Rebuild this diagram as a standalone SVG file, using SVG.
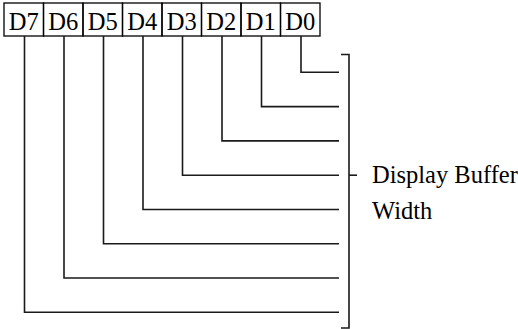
<svg xmlns="http://www.w3.org/2000/svg" width="518" height="329" viewBox="0 0 518 329">
<style>
.b{fill:none;stroke:#000;stroke-width:1.3}
.l{fill:none;stroke:#1a1a1a;stroke-width:1.6}
.t{font-family:"Liberation Serif","Times New Roman",serif;font-size:24.5px;fill:#000}
</style>
<rect width="518" height="329" fill="#fff"/>
<g id="D7"><rect class="b" x="4" y="3" width="39.5" height="33"/><text class="t" x="23.75" y="29.5" text-anchor="middle">D7</text></g>
<g id="D6"><rect class="b" x="43.5" y="3" width="39.5" height="33"/><text class="t" x="63.25" y="29.5" text-anchor="middle">D6</text></g>
<g id="D5"><rect class="b" x="83" y="3" width="39.5" height="33"/><text class="t" x="102.75" y="29.5" text-anchor="middle">D5</text></g>
<g id="D4"><rect class="b" x="122.5" y="3" width="39.5" height="33"/><text class="t" x="142.25" y="29.5" text-anchor="middle">D4</text></g>
<g id="D3"><rect class="b" x="162" y="3" width="39.5" height="33"/><text class="t" x="181.75" y="29.5" text-anchor="middle">D3</text></g>
<g id="D2"><rect class="b" x="201.5" y="3" width="39.5" height="33"/><text class="t" x="221.25" y="29.5" text-anchor="middle">D2</text></g>
<g id="D1"><rect class="b" x="241" y="3" width="39.5" height="33"/><text class="t" x="260.75" y="29.5" text-anchor="middle">D1</text></g>
<g id="D0"><rect class="b" x="280.5" y="3" width="39.5" height="33"/><text class="t" x="300.25" y="29.5" text-anchor="middle">D0</text></g>
<g id="connectors">
<path class="l" d="M301 36V72.3H339"/>
<path class="l" d="M261.5 36V106.6H339"/>
<path class="l" d="M222 36V140.9H339"/>
<path class="l" d="M182.5 36V175.2H339"/>
<path class="l" d="M143 36V209.5H339"/>
<path class="l" d="M103.5 36V243.7H339"/>
<path class="l" d="M64 36V278H339"/>
<path class="l" d="M24.5 36V312.3H339"/>
</g>
<g id="bracket">
<path class="l" d="M341 54.5H349V328H341"/>
<path class="l" d="M349 175.2H357"/>
<text class="t" x="372" y="183">Display Buffer</text>
<text class="t" x="372" y="219">Width</text>
</g>
</svg>
